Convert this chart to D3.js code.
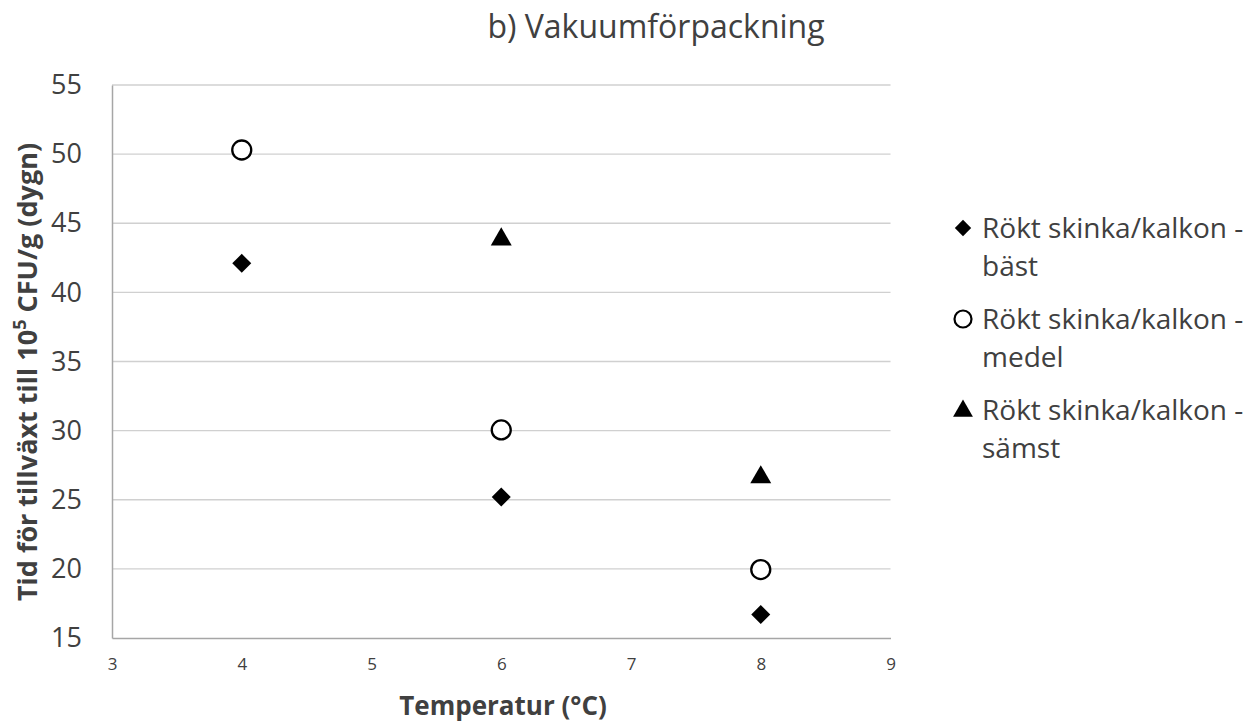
<!DOCTYPE html>
<html><head><meta charset="utf-8">
<script src="https://cdn.jsdelivr.net/npm/d3@7"></script>
<style>body{margin:0;background:#fff;font-family:"Open Sans",sans-serif;}</style>
</head><body>
<svg id="c" width="1258" height="727"></svg>
<script>
const temps = [4, 6, 8];
const bast = [42.1, 25.2, 16.7];
const medel = [50.3, 30.05, 19.95];
const samst = [null, 43.9, 26.7];
const seriesNames = ["Rökt skinka/kalkon - bäst", "Rökt skinka/kalkon - medel", "Rökt skinka/kalkon - sämst"];
const xTicks = [3, 4, 5, 6, 7, 8, 9];
const yTicks = [15, 20, 25, 30, 35, 40, 45, 50, 55];
const title = "b) Vakuumförpackning";

const svg = d3.select("#c");
const L = 112, R = 890.5, T = 85, B = 638;
const x = d3.scaleLinear().domain([3, 9]).range([L, R]);
const y = d3.scaleLinear().domain([15, 55]).range([B, T]);
const font = "Open Sans, sans-serif";

// gridlines
svg.append("g").selectAll("line").data(yTicks.filter(t => t > 15)).join("line")
  .attr("x1", L).attr("x2", R).attr("y1", d => y(d)).attr("y2", d => y(d))
  .attr("stroke", "#d0d0d0").attr("stroke-width", 1.3);

// axes
const yAxis = svg.append("g").attr("transform", `translate(${L},0)`)
  .call(d3.axisLeft(y).tickValues(yTicks).tickSize(0).tickPadding(30));
yAxis.select(".domain").attr("stroke", "#a6a6a6").attr("stroke-width", 1.5);
yAxis.selectAll("text").attr("font-family", font).attr("font-size", 27).attr("fill", "#404040");

const xAxis = svg.append("g").attr("transform", `translate(0,${B})`)
  .call(d3.axisBottom(x).tickValues(xTicks).tickFormat(d3.format("d")).tickSize(0).tickPadding(20));
xAxis.select(".domain").attr("stroke", "#a6a6a6").attr("stroke-width", 1.5);
xAxis.selectAll("text").attr("font-family", font).attr("font-size", 17).attr("fill", "#404040");

// title
svg.append("text").attr("x", 656).attr("y", 38).attr("text-anchor", "middle")
  .attr("font-family", font).attr("font-size", 32).attr("fill", "#404040").text(title);

// axis titles
svg.append("text").attr("x", 503).attr("y", 715).attr("text-anchor", "middle")
  .attr("font-family", font).attr("font-size", 26).attr("font-weight", "bold").attr("fill", "#404040")
  .text("Temperatur (°C)");

const yt = svg.append("text").attr("transform", `translate(37,372) rotate(-90)`)
  .attr("text-anchor", "middle").attr("font-family", font).attr("font-size", 27)
  .attr("font-weight", "bold").attr("fill", "#404040");
yt.append("tspan").text("Tid för tillväxt till 10");
yt.append("tspan").attr("dy", -11).attr("font-size", 18).text("5");
yt.append("tspan").attr("dy", 11).text(" CFU/g (dygn)");

// markers
const diamond = d3.symbol().type(d3.symbolDiamond2).size(230);
const triangle = d3.symbol().type(d3.symbolTriangle).size(190);
const data = [
  {vals: bast, draw: (g) => g.append("path").attr("d", diamond()).attr("fill", "#000")},
  {vals: medel, draw: (g) => g.append("circle").attr("r", 9.5).attr("fill", "#fff").attr("stroke", "#000").attr("stroke-width", 2.3)},
  {vals: samst, draw: (g) => g.append("path").attr("d", triangle()).attr("transform", "translate(0,1)").attr("fill", "#000")}
];
data.forEach(s => {
  s.vals.forEach((v, i) => {
    if (v == null) return;
    const g = svg.append("g").attr("transform", `translate(${x(temps[i])},${y(v)})`);
    s.draw(g);
  });
});

// legend
const legY = [228, 319, 410];
seriesNames.forEach((name, i) => {
  const g = svg.append("g").attr("transform", `translate(963,${legY[i]})`);
  if (i === 0) g.append("path").attr("d", d3.symbol().type(d3.symbolDiamond2).size(170)()).attr("fill", "#000");
  if (i === 1) g.append("circle").attr("r", 8.5).attr("fill", "#fff").attr("stroke", "#000").attr("stroke-width", 2.2);
  if (i === 2) g.append("path").attr("d", d3.symbol().type(d3.symbolTriangle).size(170)()).attr("transform", "translate(0,1)").attr("fill", "#000");
  const parts = name.split(" - ");
  const t = g.append("text").attr("x", 19).attr("y", 10).attr("font-family", font).attr("font-size", 28).attr("fill", "#404040");
  t.append("tspan").text(parts[0] + " -");
  t.append("tspan").attr("x", 19).attr("dy", 38).text(parts[1]);
});
</script>
</body></html>
